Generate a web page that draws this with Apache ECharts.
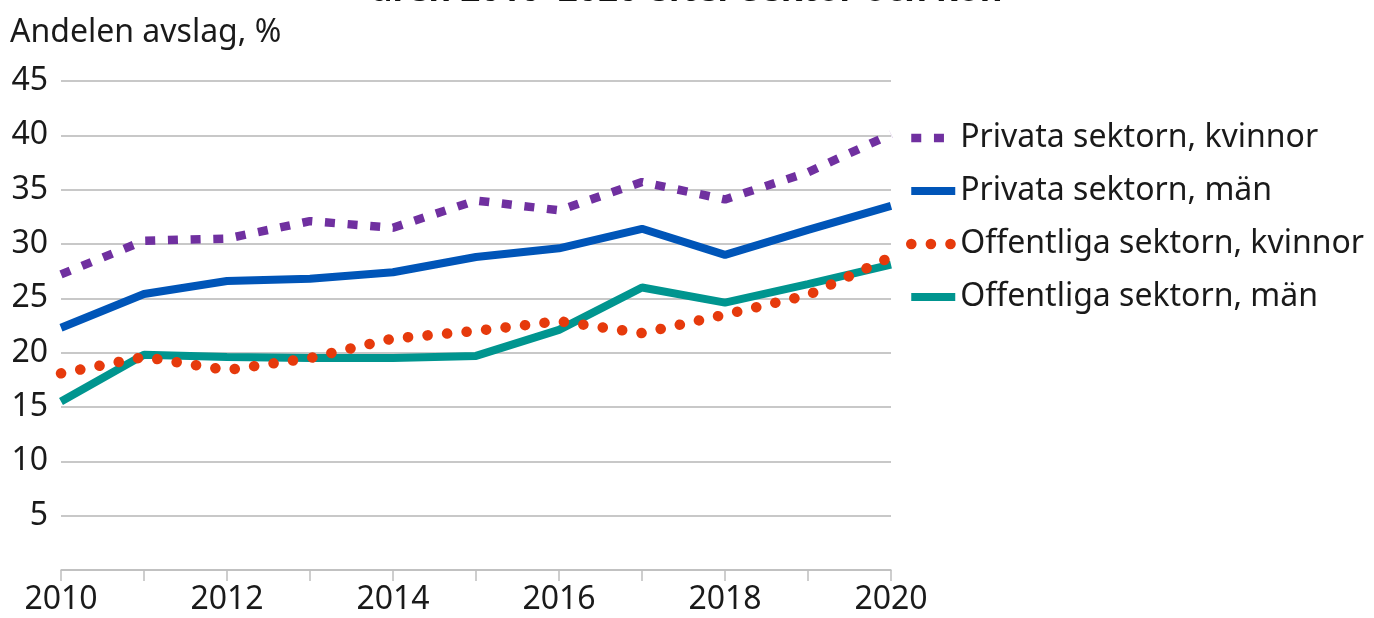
<!DOCTYPE html>
<html>
<head>
<meta charset="utf-8">
<script src="https://cdn.jsdelivr.net/npm/echarts@6/dist/echarts.min.js"></script>
<style>
html,body{margin:0;padding:0;background:#fff;}
#chart{width:1374px;height:618px;}
</style>
</head>
<body>
<div id="chart"></div>
<script>
var years = ['2010','2011','2012','2013','2014','2015','2016','2017','2018','2019','2020'];
var privataKvinnor = [27.2, 30.3, 30.5, 32.1, 31.5, 34.0, 33.1, 35.7, 34.1, 36.6, 40.1];
var privataMan = [22.3, 25.4, 26.6, 26.8, 27.4, 28.8, 29.6, 31.4, 29.0, 31.3, 33.5];
var offentligaKvinnor = [18.1, 19.6, 18.4, 19.5, 21.3, 22.0, 22.9, 21.8, 23.5, 25.3, 28.8];
var offentligaMan = [15.5, 19.8, 19.6, 19.5, 19.5, 19.7, 22.1, 26.0, 24.6, 26.3, 28.1];
var seriesNames = ['Privata sektorn, kvinnor','Privata sektorn, män','Offentliga sektorn, kvinnor','Offentliga sektorn, män'];
var yTicks = [0, 5, 10, 15, 20, 25, 30, 35, 40, 45];

var FONT = 'Noto Sans';
var chart = echarts.init(document.getElementById('chart'));
chart.setOption({
  animation: false,
  backgroundColor: '#ffffff',
  title: {
    text: 'åren 2010–2020 efter sektor och kön',
    left: 'center',
    top: -31,
    textStyle: {fontFamily: FONT, fontSize: 35, fontWeight: 'bold', color: '#111'}
  },
  grid: {left: 61, right: 1374 - 891, top: 81, bottom: 618 - 570, containLabel: false},
  legend: {
    orient: 'vertical',
    left: 906,
    top: 121,
    padding: 0,
    itemWidth: 44,
    itemHeight: 14,
    itemGap: 19,
    data: seriesNames,
    itemStyle: {opacity: 0},
    lineStyle: {width: 'inherit'},
    textStyle: {fontFamily: FONT, fontSize: 32, color: '#1a1a1a', lineHeight: 34}
  },
  xAxis: {
    type: 'category',
    data: years,
    boundaryGap: false,
    axisLine: {lineStyle: {color: '#bfbfbf', width: 1.5}},
    axisTick: {interval: 0, length: 11, lineStyle: {color: '#bfbfbf', width: 1.5}},
    axisLabel: {interval: 1, fontFamily: FONT, fontSize: 32, color: '#1a1a1a', margin: 14},
    splitLine: {show: false}
  },
  yAxis: {
    type: 'value',
    min: yTicks[0],
    max: yTicks[yTicks.length - 1],
    interval: 5,
    name: 'Andelen avslag, %',
    nameLocation: 'end',
    nameGap: 32,
    nameTextStyle: {fontFamily: FONT, fontSize: 32, color: '#1a1a1a', align: 'left', padding: [0, 0, 0, -51]},
    axisLine: {show: false},
    axisTick: {show: false},
    axisLabel: {
      fontFamily: FONT, fontSize: 32, color: '#1a1a1a', margin: 13,
      formatter: function (v) { return v === 0 ? '' : String(v); }
    },
    splitLine: {lineStyle: {color: '#c8c8c8', width: 2}}
  },
  series: [
    {
      name: seriesNames[0], type: 'line', data: privataKvinnor, symbol: 'none',
      lineStyle: {color: '#7030a0', width: 8.5, type: [10, 12.7], cap: 'butt'},
      itemStyle: {color: '#7030a0'}, z: 3
    },
    {
      name: seriesNames[1], type: 'line', data: privataMan, symbol: 'none',
      lineStyle: {color: '#0055b8', width: 8, type: 'solid'},
      itemStyle: {color: '#0055b8'}, z: 3
    },
    {
      name: seriesNames[3], type: 'line', data: offentligaMan, symbol: 'none',
      lineStyle: {color: '#00958f', width: 8, type: 'solid'},
      itemStyle: {color: '#00958f'}, z: 3
    },
    {
      name: seriesNames[2], type: 'line', data: offentligaKvinnor, symbol: 'none',
      lineStyle: {color: '#e63a0c', width: 10.5, type: [0.1, 19.5], cap: 'round'},
      itemStyle: {color: '#e63a0c'}, z: 4
    }
  ]
});
</script>
</body>
</html>
